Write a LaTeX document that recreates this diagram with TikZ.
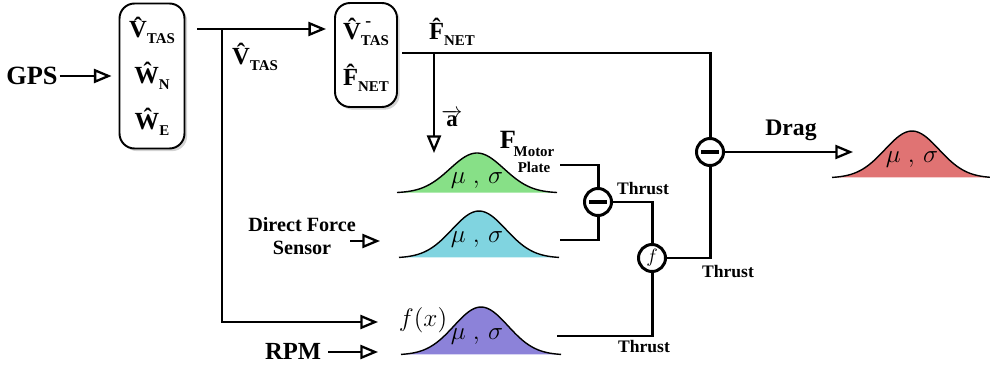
\documentclass[tikz,border=0pt]{standalone}
\usepackage{fontspec}
\setmainfont{Liberation Serif}
\usetikzlibrary{arrows.meta,shadows,positioning}
\definecolor{pdfgreen}{rgb}{0.53,0.88,0.53}
\definecolor{pdfcyan}{rgb}{0.50,0.83,0.88}
\definecolor{pdfpurple}{rgb}{0.55,0.51,0.85}
\definecolor{pdfred}{rgb}{0.88,0.45,0.45}
\newcommand{\lowsub}[1]{\raisebox{-0.55ex}{\fontsize{8.5}{9}\selectfont #1}}
% bell: centre x, base y, height, colour
\newcommand{\bellcurve}[4]{%
  \fill[#4] plot[domain=-80:80,samples=60] ({#1+\x},{#2-#3*exp(-0.5*(\x/27)*(\x/27))}) -- cycle;
  \draw[line width=0.8pt] plot[domain=-80:80,samples=60] ({#1+\x},{#2-#3*exp(-0.5*(\x/27)*(\x/27))});}

\begin{document}
\begin{tikzpicture}[x=0.02cm,y=-0.02cm,
    wire/.style={line width=1.7pt},
    flow/.style={wire,-{Triangle[open,length=10pt,width=8pt,line width=1.3pt]}},
    est/.style={draw,line width=1.1pt,rounded corners=0.3cm,fill=white,
      drop shadow={shadow xshift=1.5pt,shadow yshift=-1.5pt,opacity=0.35},
      align=center,inner sep=0pt,font=\fontsize{14}{26}\selectfont\bfseries},
    op/.style={draw,circle,line width=1.7pt,minimum size=0.54cm,inner sep=0pt,fill=white},
    lbl/.style={inner sep=1pt,font=\fontsize{10}{12}\selectfont\bfseries},
    big/.style={lbl,font=\fontsize{14}{16}\selectfont\bfseries},
    musig/.style={inner sep=0pt,font=\fontsize{15.5}{15}\selectfont}]
    \useasboundingbox (0,0) rectangle (990,368);

    % distributions
    \bellcurve{477}{193}{40}{pdfgreen}
    \bellcurve{479}{258}{47}{pdfcyan}
    \bellcurve{481}{355}{48}{pdfpurple}
    \bellcurve{912}{178}{47}{pdfred}
    \node[musig] (mug) at (477,181) {$\mu\;,\,\sigma$};
    \node[musig] (muc) at (477,240) {$\mu\;,\,\sigma$};
    \node[musig] (mup) at (477,337) {$\mu\;,\,\sigma$};
    \node[musig] (mur) at (912,160) {$\mu\;,\,\sigma$};

    % estimator boxes
    \node[est,minimum width=1.3cm,minimum height=2.9cm] (state) at (152,76)
      {\^{V}\lowsub{TAS}\\ \^{W}\lowsub{N}\\ \^{W}\lowsub{E}};
    \node[est,minimum width=1.24cm,minimum height=2.08cm] (filt) at (366,55)
      {\^{V}\rlap{\raisebox{0.55em}{\fontsize{10}{10}\selectfont\ -}}\lowsub{TAS}\\ \^{F}\lowsub{NET}};

    % operators
    \node[op] (sub1) at (598,202) {};
    \node[op] (drag) at (710,152) {};
    \node[op,font=\fontsize{11}{11}\selectfont] (fuse) at (652,258) {$f$};
    \draw[line width=2.2pt] ([xshift=3.5pt]sub1.west) -- ([xshift=-3.5pt]sub1.east);
    \draw[line width=2.2pt] ([xshift=3.5pt]drag.west) -- ([xshift=-3.5pt]drag.east);

    % inputs
    \node[lbl,font=\fontsize{15}{16}\selectfont\bfseries] (gps) at (32,76) {GPS};
    \node[lbl,font=\fontsize{11.5}{13}\selectfont\bfseries,align=center] (dfs) at (302,236) {Direct Force\\Sensor};
    \node[lbl,font=\fontsize{14}{16}\selectfont\bfseries] (rpm) at (293,351) {RPM};

    \coordinate (vout) at (197,29);
    \coordinate (vsplit) at (222,29);
    \coordinate (fxin) at (378,322);
    \coordinate (fout) at (402,53);
    \coordinate (abr) at (434,53);
    \coordinate (ain) at (434,153);
    \coordinate (gout) at (560,165);
    \coordinate (cout) at (560,240);
    \coordinate (pout) at (557,336);
    \coordinate (dfsout) at (350,241);
    \coordinate (dfsin) at (380,241);
    \coordinate (rpmin) at (378,352);
    \coordinate (dragin) at (853,152);

    \draw[flow,shorten >=0.14cm] (gps) -- (state);
    \draw[flow,shorten >=0.16cm] (vout) -- (filt.west |- vout);
    \draw[flow] (vsplit) |- (fxin);
    \draw[wire] (fout) -| (drag.north);
    \draw[flow] (abr) -- (ain);
    \draw[wire] (gout) -| (sub1.north);
    \draw[wire] (cout) -| (sub1.south);
    \draw[wire] (sub1.east) -| (fuse.north);
    \draw[wire] (pout) -| (fuse.south);
    \draw[wire] (fuse.east) -| (drag.south);
    \draw[flow] (drag.east) -- (dragin);
    \draw[flow] (dfsout) -- (dfsin);
    \draw[flow,shorten <=0.1cm] (rpm.east |- rpmin) -- (rpmin);

    % labels
    \node[big] (vtas) at (255,57) {\^{V}\lowsub{TAS}};
    \node[big] (fnet) at (452,32) {\^{F}\lowsub{NET}};
    \node[lbl,font=\fontsize{13}{15}\selectfont\bfseries] (acc) at (452,118) {$\overrightarrow{\textbf{a}}$};
    \node[lbl,font=\fontsize{15}{16}\selectfont\bfseries] (fmot) at (508,140) {F};
    \node[lbl,font=\fontsize{8.5}{9}\selectfont\bfseries,align=center,inner sep=0pt] (fmsub) at (534,160) {Motor\\Plate};
    \node[lbl] (thr1) at (643,189) {Thrust};
    \node[lbl] (thr2) at (728,272) {Thrust};
    \node[lbl] (thr3) at (644,347) {Thrust};
    \node[lbl,font=\fontsize{13.5}{15}\selectfont\bfseries] (dlab) at (791,130) {Drag};
    \node[musig,font=\fontsize{15}{15}\selectfont] (fx) at (423,320) {$f(x)$};
\end{tikzpicture}
\end{document}
